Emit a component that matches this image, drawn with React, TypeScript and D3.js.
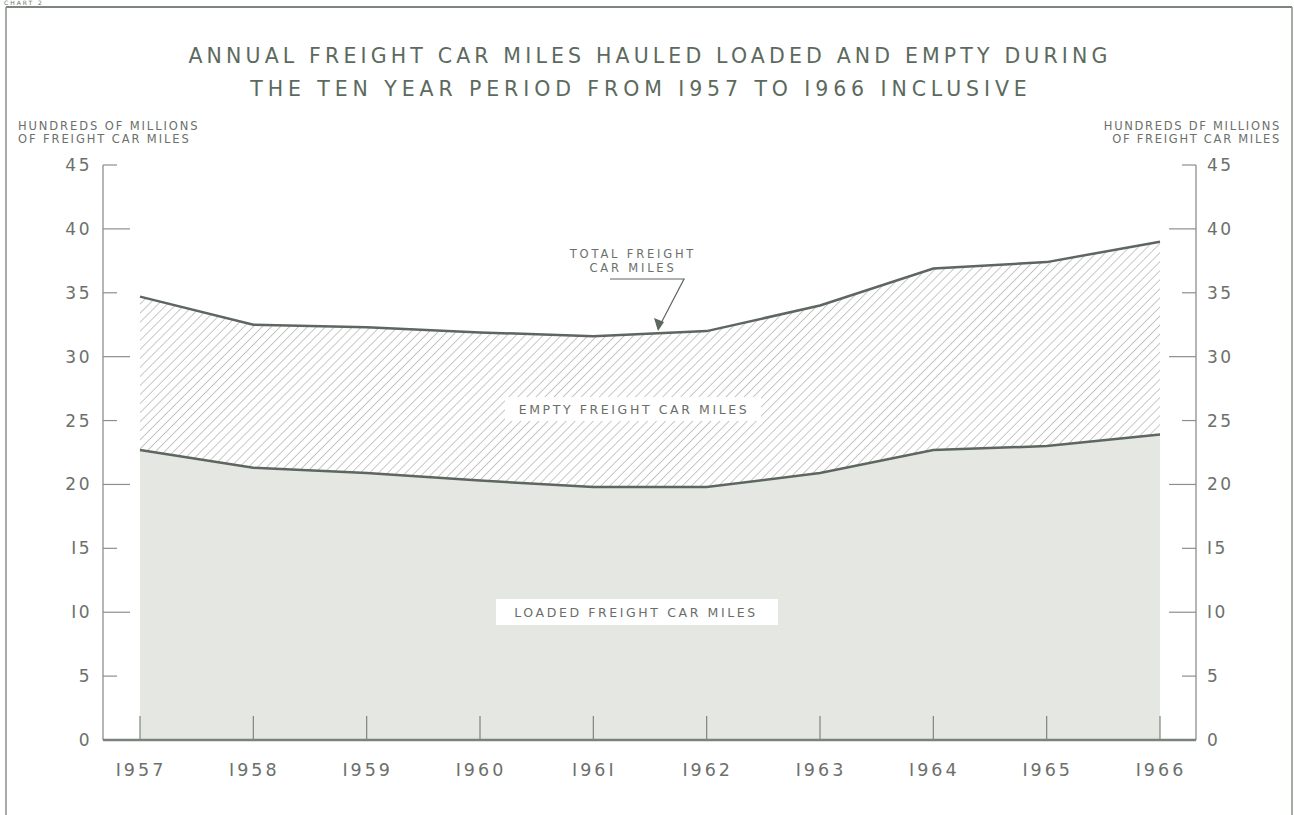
import React from "react";
import * as d3 from "d3";

const years = [1957, 1958, 1959, 1960, 1961, 1962, 1963, 1964, 1965, 1966];
const totalMiles = [34.7, 32.5, 32.3, 31.9, 31.6, 32.0, 34.0, 36.9, 37.4, 39.0];
const loadedMiles = [22.7, 21.3, 20.9, 20.3, 19.8, 19.8, 20.9, 22.7, 23.0, 23.9];
const yTicks = [0, 5, 10, 15, 20, 25, 30, 35, 40, 45];
const yTickLabels = ["0", "5", "I0", "I5", "20", "25", "30", "35", "40", "45"];
const titleLines = [
  "ANNUAL FREIGHT CAR MILES HAULED LOADED AND EMPTY DURING",
  "THE TEN YEAR PERIOD FROM I957 TO I966 INCLUSIVE",
];

const W = 1294;
const H = 815;
const axisLeft = 103;
const axisRight = 1196;
const ink = "#5d665f";
const textCol = "#6b706b";
const font = "'DejaVu Sans', 'Liberation Sans', sans-serif";

export default function App() {
  const x = d3.scaleLinear().domain([1957, 1966]).range([140, 1160]);
  const y = d3.scaleLinear().domain([0, 45]).range([740, 165]);

  const loadedArea = d3
    .area<number>()
    .x((_, i) => x(years[i]))
    .y0(y(0))
    .y1((d) => y(d))(loadedMiles) as string;

  const emptyArea = d3
    .area<number>()
    .x((_, i) => x(years[i]))
    .y0((_, i) => y(loadedMiles[i]))
    .y1((d) => y(d))(totalMiles) as string;

  const line = d3
    .line<number>()
    .x((_, i) => x(years[i]))
    .y((d) => y(d));

  const yearLabel = (yr: number) => String(yr).replace(/1/g, "I");

  return (
    <svg
      width={W}
      height={H}
      style={{ position: "absolute", left: 0, top: 0, background: "#fff" }}
      fontFamily={font}
    >
      <defs>
        <pattern
          id="hatch"
          width={6.4}
          height={6.4}
          patternUnits="userSpaceOnUse"
          patternTransform="rotate(45)"
        >
          <line x1={0} y1={0} x2={0} y2={6.4} stroke="#8c918c" strokeWidth={1} />
        </pattern>
      </defs>

      {/* frame */}
      <text x={4} y={5} fontSize={6} fill={textCol} letterSpacing={2}>
        CHART 2
      </text>
      <line x1={6} y1={7} x2={1292} y2={7} stroke="#7d857e" strokeWidth={2} />
      <line x1={6} y1={7} x2={6} y2={815} stroke="#8a908a" strokeWidth={1.5} />
      <line x1={1292} y1={7} x2={1292} y2={815} stroke="#8a908a" strokeWidth={1.5} />

      {/* title */}
      {titleLines.map((t, i) => (
        <text
          key={i}
          x={i === 0 ? 650 : 641}
          y={63 + i * 33}
          textAnchor="middle"
          fontSize={20.5}
          fill="#5c6a5e"
          letterSpacing={i === 0 ? 4.15 : 4.9}
        >
          {t}
        </text>
      ))}

      {/* axis titles */}
      {["HUNDREDS OF MILLIONS", "OF FREIGHT CAR MILES"].map((t, i) => (
        <text key={"l" + i} x={18} y={130 + i * 13} fontSize={11.5} fill={textCol} letterSpacing={1.9}>
          {t}
        </text>
      ))}
      {["HUNDREDS  DF MILLIONS", "OF FREIGHT  CAR MILES"].map((t, i) => (
        <text key={"r" + i} x={1281} y={130 + i * 13} fontSize={11.5} textAnchor="end" fill={textCol} letterSpacing={1.7}>
          {t}
        </text>
      ))}

      {/* areas */}
      <path d={loadedArea} fill="#e5e7e2" />
      <path d={emptyArea} fill="url(#hatch)" />
      <path d={line(totalMiles) as string} fill="none" stroke={ink} strokeWidth={2.5} />
      <path d={line(loadedMiles) as string} fill="none" stroke={ink} strokeWidth={2.5} />

      {/* axes */}
      <line x1={axisLeft} y1={165} x2={axisLeft} y2={y(0)} stroke="#8a908a" strokeWidth={1.3} />
      <line x1={axisRight} y1={165} x2={axisRight} y2={y(0)} stroke="#8a908a" strokeWidth={1.3} />
      <line x1={axisLeft} y1={y(0)} x2={axisRight} y2={y(0)} stroke="#7a827b" strokeWidth={2.5} />

      {yTicks.map((t, i) => {
        const len = t === 0 ? 0 : t % 10 === 0 ? 27 : 14;
        return (
          <g key={t}>
            {len > 0 && (
              <>
                <line x1={axisLeft} y1={y(t)} x2={axisLeft + len} y2={y(t)} stroke="#8a908a" strokeWidth={1.2} />
                <line x1={axisRight} y1={y(t)} x2={axisRight - len} y2={y(t)} stroke="#8a908a" strokeWidth={1.2} />
              </>
            )}
            <text x={92} y={y(t) + 6} textAnchor="end" fontSize={17} fill={textCol} letterSpacing={2.5}>
              {yTickLabels[i]}
            </text>
            <text x={1207} y={y(t) + 6} textAnchor="start" fontSize={17} fill={textCol} letterSpacing={2.5}>
              {yTickLabels[i]}
            </text>
          </g>
        );
      })}

      {years.map((yr) => (
        <g key={yr}>
          <line x1={x(yr)} y1={y(0)} x2={x(yr)} y2={y(0) - 24} stroke="#7d857e" strokeWidth={1.2} />
          <text x={x(yr) + 1} y={y(0) + 36} textAnchor="middle" fontSize={17.5} fill={textCol} letterSpacing={3}>
            {yearLabel(yr)}
          </text>
        </g>
      ))}

      {/* labels */}
      <rect x={505} y={397} width={256} height={24} fill="#fff" />
      <text x={634} y={414} textAnchor="middle" fontSize={12.5} fill="#6a6e6a" letterSpacing={2.6}>
        EMPTY FREIGHT CAR MILES
      </text>
      <rect x={496} y={599} width={282} height={26} fill="#fff" />
      <text x={636} y={617} textAnchor="middle" fontSize={12.5} fill="#6a6e6a" letterSpacing={2.6}>
        LOADED FREIGHT CAR MILES
      </text>

      {/* annotation */}
      <text x={633} y={258} textAnchor="middle" fontSize={11.5} fill={textCol} letterSpacing={2.8}>
        TOTAL FREIGHT
      </text>
      <text x={633} y={272} textAnchor="middle" fontSize={11.5} fill={textCol} letterSpacing={2.8}>
        CAR MILES
      </text>
      <polyline points="610,279 684,279 658,329" fill="none" stroke={ink} strokeWidth={1.2} />
      <polygon points="658,331 654,318 664,322" fill={ink} />
    </svg>
  );
}
